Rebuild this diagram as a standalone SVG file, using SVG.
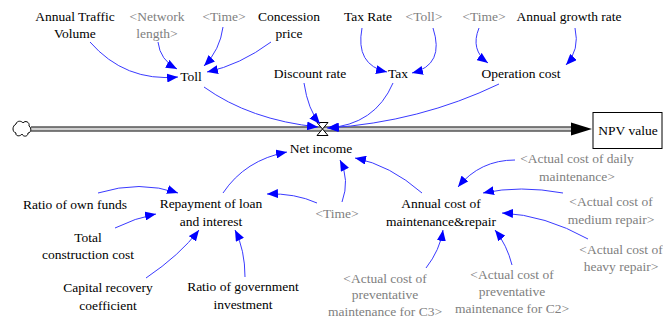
<svg xmlns="http://www.w3.org/2000/svg" width="663" height="320" viewBox="0 0 663 320">
<style>
text{text-anchor:middle}
text.sh{fill:#808080}
.lk{fill:none;stroke:#3a3aff;stroke-width:1;marker-end:url(#ah)}
</style>
<defs>
<marker id="ah" markerWidth="11" markerHeight="9" refX="11" refY="4.5" orient="auto" markerUnits="userSpaceOnUse">
<path d="M0,0 L11,4.5 L0,9 z" fill="#0000ff"/>
</marker>
</defs>
<rect width="663" height="320" fill="#fff"/>
<g id="flow">
<path d="M31,129 H574" stroke="#d0d0d0" stroke-width="3" fill="none"/>
<path d="M31,127 H574 M31,131 H574" stroke="#000" stroke-width="1" fill="none"/>
<path d="M571,122.5 L592,129 L571,135.5 z" fill="#000"/>
</g>
<g id="cloud">
<path d="M16,124 C17,120 22,121 23,123 C25,120 30,122 29,126 C32,128 31,133 28,133 C28,137 23,137 22,134 C20,137 15,136 16,133 C12,132 12,126 16,124 z" fill="#fff" stroke="#000" stroke-width="1"/>
</g>
<g font-family="Liberation Serif, Times New Roman, serif" font-size="13.5" fill="#000">
<g id="npv-value">
<rect x="593" y="112.5" width="69" height="36" fill="#fff" stroke="#000" stroke-width="1"/>
<text x="628" y="134.5">NPV value</text>
</g>
<g id="net-income">
<path d="M317,122.5 H328 L317,135.5 H328 Z" fill="#fff" stroke="#000" stroke-width="1"/>
<text x="321" y="152.5">Net income</text>
</g>
<g id="annual-traffic-volume"><text x="75" y="21">Annual Traffic</text><text x="75" y="38">Volume</text></g>
<g id="network-length"><text class="sh" x="157" y="21">&lt;Network</text><text class="sh" x="157" y="38">length&gt;</text></g>
<g id="time-1"><text class="sh" x="224" y="21">&lt;Time&gt;</text></g>
<g id="concession-price"><text x="289" y="21">Concession</text><text x="289" y="38">price</text></g>
<g id="toll"><text x="191" y="80.5">Toll</text></g>
<g id="discount-rate"><text x="310" y="77.5">Discount rate</text></g>
<g id="tax-rate"><text x="368" y="21">Tax Rate</text></g>
<g id="toll-shadow"><text class="sh" x="424" y="21">&lt;Toll&gt;</text></g>
<g id="time-2"><text class="sh" x="484" y="21">&lt;Time&gt;</text></g>
<g id="annual-growth-rate"><text x="569" y="21">Annual growth rate</text></g>
<g id="tax"><text x="398" y="77.5">Tax</text></g>
<g id="operation-cost"><text x="521" y="77.5">Operation cost</text></g>
<g id="ratio-own-funds"><text x="75" y="208.5">Ratio of own funds</text></g>
<g id="repayment"><text x="211" y="208">Repayment of loan</text><text x="211" y="225.5">and interest</text></g>
<g id="total-construction-cost"><text x="88" y="241.5">Total</text><text x="88" y="259">construction cost</text></g>
<g id="capital-recovery"><text x="108" y="292">Capital recovery</text><text x="108" y="309.5">coefficient</text></g>
<g id="ratio-government"><text x="243" y="291">Ratio of government</text><text x="243" y="308.5">investment</text></g>
<g id="time-3"><text class="sh" x="337" y="217.5">&lt;Time&gt;</text></g>
<g id="annual-cost"><text x="441" y="208">Annual cost of</text><text x="441" y="226">maintenance&amp;repair</text></g>
<g id="daily"><text class="sh" x="577" y="163">&lt;Actual cost of daily</text><text class="sh" x="577" y="181">maintenance&gt;</text></g>
<g id="medium"><text class="sh" x="611" y="206">&lt;Actual cost of</text><text class="sh" x="611" y="223.5">medium repair&gt;</text></g>
<g id="heavy"><text class="sh" x="621" y="253.5">&lt;Actual cost of</text><text class="sh" x="621" y="271">heavy repair&gt;</text></g>
<g id="prev-c3"><text class="sh" x="385" y="282.5">&lt;Actual cost of</text><text class="sh" x="385" y="298.5">preventative</text><text class="sh" x="385" y="315.5">maintenance for C3&gt;</text></g>
<g id="prev-c2"><text class="sh" x="512" y="278.5">&lt;Actual cost of</text><text class="sh" x="512" y="296">preventative</text><text class="sh" x="512" y="312.5">maintenance for C2&gt;</text></g>
</g>
<g id="connectors">
<path class="lk" d="M90,42 Q125,82 178,77"/>
<path class="lk" d="M158,42 Q160,60 177,69"/>
<path class="lk" d="M223,27 Q220,50 204,66"/>
<path class="lk" d="M271,42 Q240,65 207,72"/>
<path class="lk" d="M204,87 Q250,120 318,127"/>
<path class="lk" d="M304,83 Q308,110 320,124"/>
<path class="lk" d="M362,28 Q355,65 387,72"/>
<path class="lk" d="M433,28 Q445,65 412,73"/>
<path class="lk" d="M393,83 Q375,125 327,128"/>
<path class="lk" d="M479,28 Q470,50 488,63"/>
<path class="lk" d="M575,28 Q580,50 566,65"/>
<path class="lk" d="M499,84 Q420,122 328,128"/>
<path class="lk" d="M223,193 Q245,160 287,152"/>
<path class="lk" d="M98,193 Q140,180 178,193"/>
<path class="lk" d="M115,228 Q135,218 156,214"/>
<path class="lk" d="M146,278 Q180,255 199,230"/>
<path class="lk" d="M245,277 Q245,250 235,230"/>
<path class="lk" d="M317,203 Q295,193 267,194"/>
<path class="lk" d="M342,202 Q350,180 340,160"/>
<path class="lk" d="M422,193 Q390,165 355,158"/>
<path class="lk" d="M515,160 Q480,160 458,187"/>
<path class="lk" d="M563,193 Q520,185 483,193"/>
<path class="lk" d="M588,239 Q545,215 502,213"/>
<path class="lk" d="M426,268 Q440,250 443,230"/>
<path class="lk" d="M512,265 Q507,245 495,230"/>
</g>
</svg>
